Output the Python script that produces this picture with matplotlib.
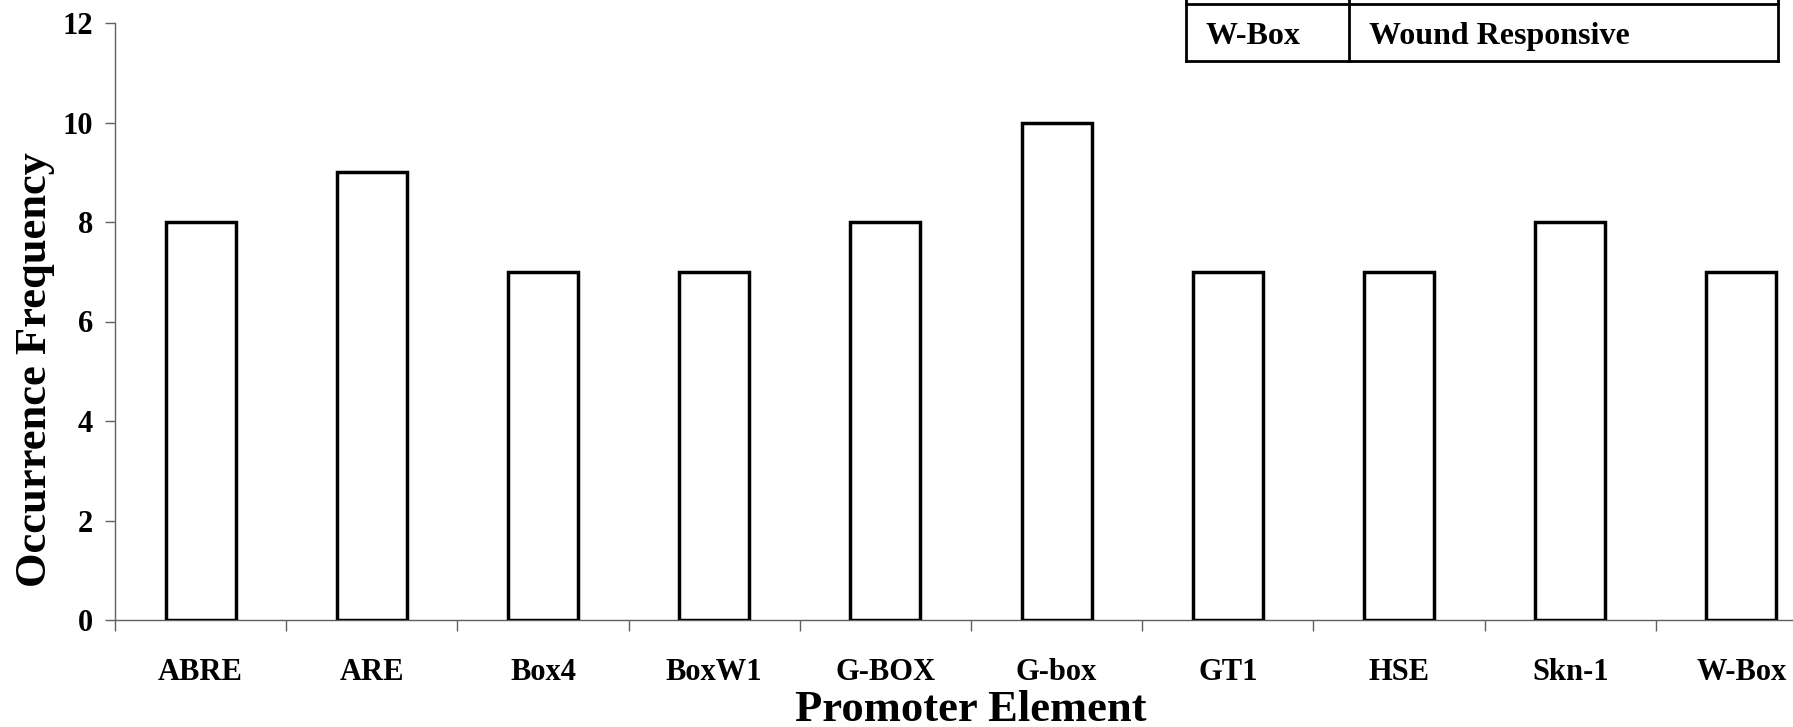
import matplotlib
matplotlib.use("Agg")
from matplotlib import pyplot as plt
from matplotlib.lines import Line2D

elements = ['ABRE', 'ARE', 'Box4', 'BoxW1', 'G-BOX', 'G-box', 'GT1', 'HSE', 'Skn-1', 'W-Box']
counts = [8, 9, 7, 7, 8, 10, 7, 7, 8, 7]
y_ticks = [0, 2, 4, 6, 8, 10, 12]
table_row = ['W-Box', 'Wound Responsive']

plt.rcParams['font.family'] = ['Liberation Serif', 'DejaVu Serif']
plt.rcParams['font.weight'] = 'bold'

W, H = 1793, 727
fig = plt.figure(figsize=(W / 100, H / 100), dpi=100)
ax = fig.add_axes([115 / W, 1 - 620 / H, 1 - 115 / W, (620 - 23) / H])

x = list(range(len(elements)))
ax.bar(x, counts, width=0.41, color='white', edgecolor='black', linewidth=2.5, zorder=3)

ax.set_yticks(y_ticks)
ax.set_xticks(x)
ax.set_xticklabels(elements)
ax.set_xticks([i - 0.5 for i in range(len(elements) + 1)], minor=True)
# plot is cut at the right edge, so set the limits after the ticks
ax.set_xlim(-0.5, -0.5 + (W - 115) / 171.2)
ax.set_ylim(0, 12)

ax.tick_params(axis='x', which='major', length=0, pad=27, labelsize=22)
ax.tick_params(axis='x', which='minor', length=8, direction='out', color='#606060', width=1)
ax.tick_params(axis='y', length=7, direction='out', color='#606060', width=1, pad=9, labelsize=22)
for lab in ax.get_xticklabels() + ax.get_yticklabels():
    lab.set_fontweight('bold')

for s in ['top', 'right']:
    ax.spines[s].set_visible(False)
for s in ['left', 'bottom']:
    ax.spines[s].set_color('#606060')
    ax.spines[s].set_linewidth(1)

ax.set_xlabel('Promoter Element', fontsize=32, fontweight='bold')
ax.set_ylabel('Occurrence Frequency', fontsize=32, fontweight='bold')
ax.xaxis.set_label_coords(0.51, -0.117)
ax.yaxis.set_label_coords(-0.036, 0.419)

# table fragment, top right
tl, tm, tr = 1186 / W, 1349 / W, 1778 / W
tb, tt = 1 - 61 / H, 1 - 3.5 / H
lw = 2
for xs, ys in [([tl, tr], [tb, tb]), ([tl, tr], [tt, tt]),
               ([tl, tl], [tb, 1.0]), ([tm, tm], [tb, 1.0]), ([tr, tr], [tb, 1.0])]:
    fig.add_artist(Line2D(xs, ys, transform=fig.transFigure, color='black', linewidth=lw))
ty = (tb + tt) / 2 - 4 / H
fig.text(1206 / W, ty, table_row[0], fontsize=23, fontweight='bold', va='center', ha='left')
fig.text(1369 / W, ty, table_row[1], fontsize=23, fontweight='bold', va='center', ha='left')

fig.savefig('out.png', dpi=100)
